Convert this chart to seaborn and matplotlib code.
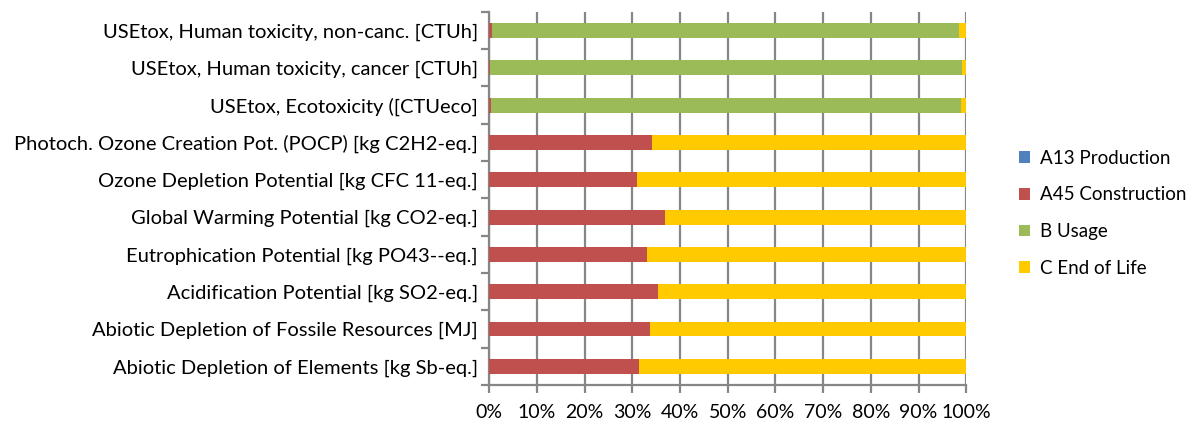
import matplotlib
matplotlib.use("Agg")
import matplotlib.pyplot as plt
import seaborn as sns
import numpy as np
import pandas as pd
from matplotlib.patches import Patch
from matplotlib.ticker import PercentFormatter

# categories, top to bottom
categories = [
    "USEtox, Human toxicity, non-canc. [CTUh]",
    "USEtox, Human toxicity, cancer [CTUh]",
    "USEtox, Ecotoxicity ([CTUeco]",
    "Photoch. Ozone Creation Pot. (POCP) [kg C2H2-eq.]",
    "Ozone Depletion Potential [kg CFC 11-eq.]",
    "Global Warming Potential [kg CO2-eq.]",
    "Eutrophication Potential [kg PO43--eq.]",
    "Acidification Potential [kg SO2-eq.]",
    "Abiotic Depletion of Fossile Resources [MJ]",
    "Abiotic Depletion of Elements [kg Sb-eq.]",
]

# shares in percent
a13_production = [0.0, 0.0, 0.0, 0.0, 0.0, 0.0, 0.0, 0.0, 0.0, 0.0]
a45_construction = [0.6, 0.2, 0.3, 34.2, 31.0, 36.9, 33.1, 35.4, 33.8, 31.4]
b_usage = [97.9, 98.8, 98.5, 0.0, 0.0, 0.0, 0.0, 0.0, 0.0, 0.0]
c_end_of_life = [1.5, 1.0, 1.2, 65.8, 69.0, 63.1, 66.9, 64.6, 66.2, 68.6]

series = ["A13 Production", "A45 Construction", "B Usage", "C End of Life"]
colors = ["#4F81BD", "#C0504D", "#9BBB59", "#FFCA00"]

df = pd.DataFrame({
    "category": categories,
    "A13 Production": a13_production,
    "A45 Construction": a45_construction,
    "B Usage": b_usage,
    "C End of Life": c_end_of_life,
})

plt.rcParams["font.family"] = ["Lato", "DejaVu Sans"]

fig, ax = plt.subplots(figsize=(11.9, 4.23), dpi=100)
fig.subplots_adjust(left=0.411, right=0.812, top=0.972, bottom=0.09)

# stacked: draw cumulative totals from the last series backwards
cum = df[series].cumsum(axis=1)
for name, color in reversed(list(zip(series, colors))):
    sns.barplot(data=cum.assign(category=df["category"]), x=name, y="category",
                orient="h", color=color, width=0.4, saturation=1,
                linewidth=0, ax=ax, zorder=3)

ax.set_xlim(0, 100)
ax.set_ylim(len(categories) - 0.5, -0.5)
ax.set_xticks(np.arange(0, 101, 10))
ax.xaxis.set_major_formatter(PercentFormatter(decimals=0))
ax.set_xlabel("")
ax.set_ylabel("")

ax.grid(axis="x", color="#868686", linewidth=1.6, zorder=0)
ax.set_axisbelow(True)
for s in ["top", "right"]:
    ax.spines[s].set_visible(False)
for s in ["left", "bottom"]:
    ax.spines[s].set_color("#868686")
    ax.spines[s].set_linewidth(1.6)

# category boundary ticks on the y axis
ax.set_yticks(np.arange(len(categories)))
ax.set_yticks(np.arange(-0.5, len(categories), 1), minor=True)
ax.tick_params(axis="y", which="major", length=0, labelsize=14.5, pad=8)
ax.tick_params(axis="y", which="minor", length=6, color="#868686", width=1.6)
ax.tick_params(axis="x", length=6, color="#868686", width=1.6,
               labelsize=14, pad=8)

handles = [Patch(facecolor=c, label=s) for s, c in zip(series, colors)]
ax.legend(handles=handles, loc="center left", bbox_to_anchor=(1.075, 0.46),
          frameon=False, fontsize=13.5, handlelength=0.6, handleheight=0.6,
          labelspacing=1.05, handletextpad=0.5)

fig.savefig("out.png", dpi=100)
